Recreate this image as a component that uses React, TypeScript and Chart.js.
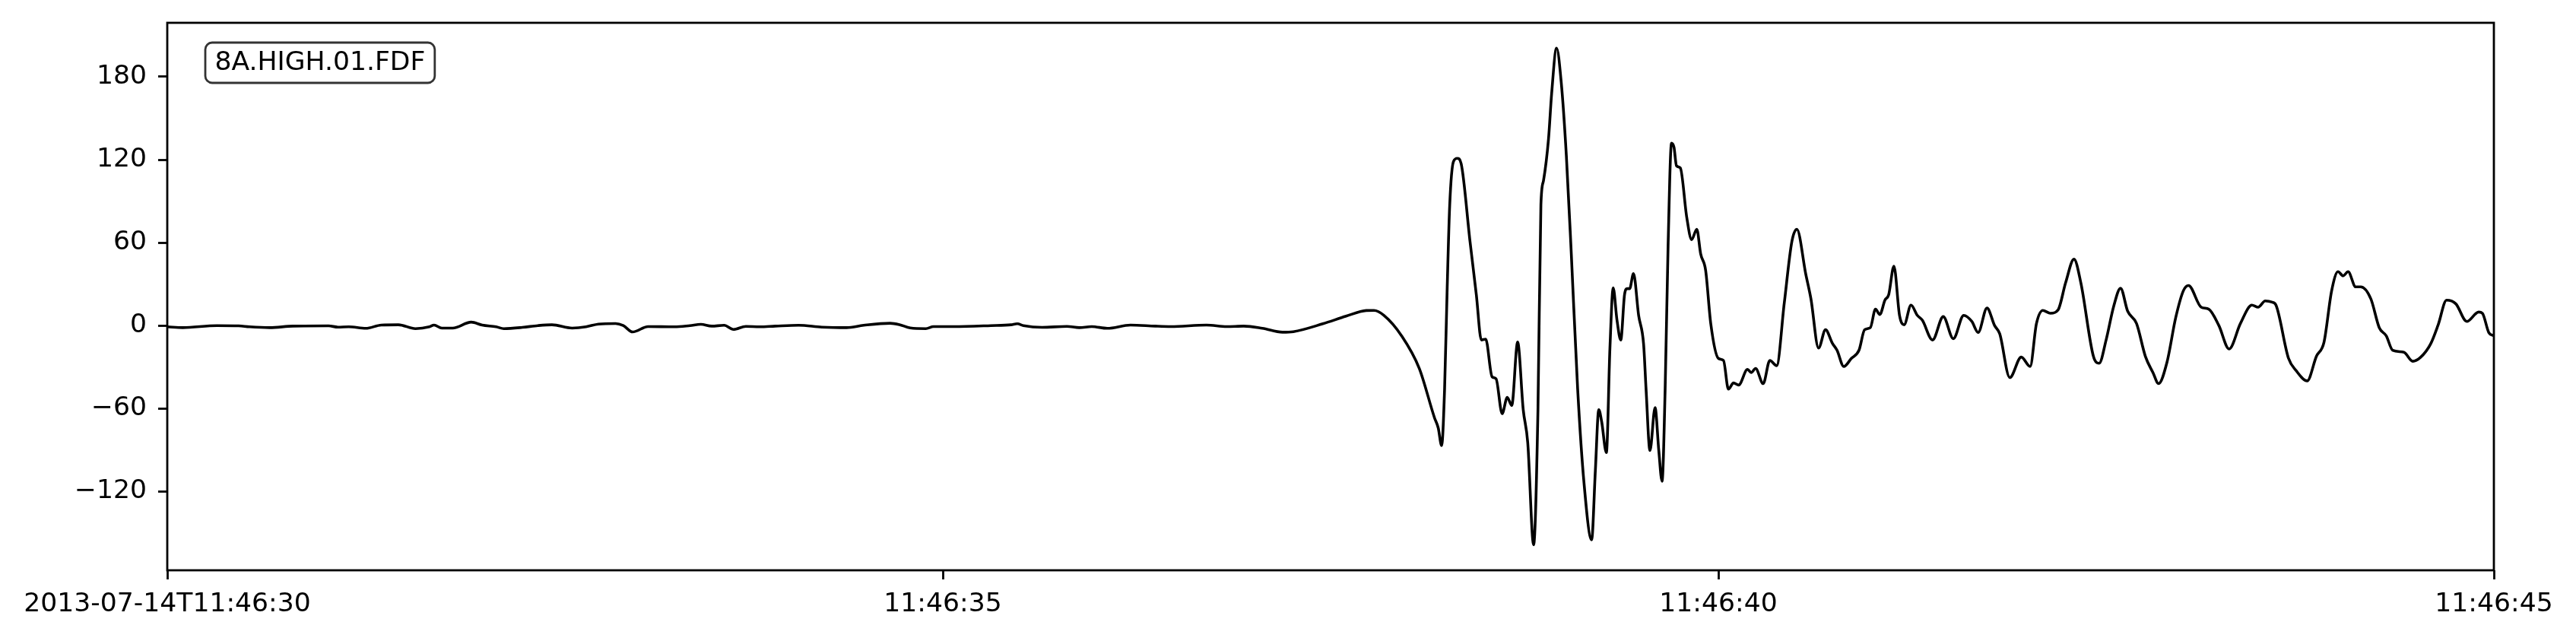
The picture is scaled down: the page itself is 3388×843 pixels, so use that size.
import { useEffect, useRef } from "react";
import { Chart, registerables } from "chart.js";

Chart.register(...registerables);

// trace id shown in the corner box
const traceLabel = "8A.HIGH.01.FDF";

// x axis: seconds after 2013-07-14T11:46:30
const timeTicks = [0, 5, 10, 15];
const timeTickLabels = ["2013-07-14T11:46:30", "11:46:35", "11:46:40", "11:46:45"];

// y axis ticks (counts)
const ampTicks = [-120, -60, 0, 60, 120, 180];

// waveform samples
const seconds = [
  0, 0.1, 0.32, 0.46, 0.53, 0.66, 0.81, 1.04, 1.1, 1.17, 1.28, 1.38, 1.49, 1.6, 1.69, 1.72, 1.77, 1.84, 1.96,
  2.03, 2.12, 2.17, 2.29, 2.39, 2.48, 2.61, 2.7, 2.78, 2.89, 2.94, 3.0, 3.1, 3.27, 3.37, 3.44, 3.51, 3.59, 3.65,
  3.73, 3.82, 3.92, 4.07, 4.22, 4.38, 4.49, 4.66, 4.72, 4.79, 4.89, 4.94, 5.07, 5.31, 5.44, 5.48, 5.52, 5.64,
  5.8, 5.88, 5.96, 6.06, 6.21, 6.37, 6.47, 6.7, 6.83, 6.94, 7.06, 7.19, 7.26, 7.45, 7.6, 7.73, 7.78,
  7.843, 7.958, 8.072, 8.17, 8.194, 8.216, 8.235, 8.252, 8.268, 8.292, 8.317, 8.342, 8.399, 8.44, 8.472, 8.5,
  8.541, 8.567, 8.606, 8.639, 8.668, 8.706, 8.742, 8.771, 8.809, 8.837, 8.856, 8.873, 8.905, 8.925, 8.957,
  8.987, 9.02, 9.052, 9.093, 9.134, 9.183, 9.207, 9.229, 9.248, 9.278, 9.301, 9.322, 9.346, 9.371, 9.395,
  9.412, 9.428, 9.453, 9.486, 9.518, 9.534, 9.559, 9.592, 9.616, 9.637, 9.657, 9.676, 9.698, 9.714, 9.73,
  9.755, 9.796, 9.828, 9.861, 9.886, 9.918, 9.951, 10.0, 10.033, 10.065, 10.098, 10.131,
  10.188, 10.212, 10.24, 10.289, 10.332, 10.376, 10.425, 10.474, 10.506, 10.564, 10.597, 10.646, 10.691,
  10.735, 10.765, 10.809, 10.858, 10.907, 10.943, 10.98, 11.013, 11.041, 11.074, 11.098, 11.132, 11.168,
  11.198, 11.242, 11.283, 11.315, 11.381, 11.45, 11.515, 11.582, 11.634, 11.675, 11.732, 11.781, 11.814,
  11.879, 11.953, 12.01, 12.051, 12.092, 12.141, 12.19, 12.239, 12.293, 12.337, 12.418, 12.455, 12.5,
  12.549, 12.593, 12.639, 12.696, 12.753, 12.802, 12.838, 12.892, 12.949, 12.998, 13.031, 13.113, 13.162,
  13.227, 13.293, 13.366, 13.44, 13.48, 13.526, 13.57, 13.595, 13.676, 13.725, 13.796, 13.856, 13.905,
  13.954, 13.995, 14.028, 14.06, 14.109, 14.142, 14.207, 14.261, 14.306, 14.347, 14.42, 14.477, 14.526,
  14.592, 14.641, 14.695, 14.755, 14.825, 14.902, 14.926, 14.967, 15.0,
];
const counts = [
  -0.9, -1.5, 0, -0.2, -0.9, -1.5, -0.4, -0.2, -1.1, -0.9, -2.0, 0.4, 0.6, -2.2, -0.9, 0.4, -1.8, -1.8, 2.5,
  0.4, -0.9, -2.2, -1.3, 0, 0.6, -1.8, -0.9, 1.1, 1.5, 0, -4.6, -0.7, -0.9, 0, 0.9, -0.4, 0.2, -2.8,
  -0.6, -0.9, -0.4, 0.2, -1.1, -1.5, 0.2, 1.7, 0.7, -1.7, -2.2, -0.7, -0.7, 0, 0.6, 1.3, 0, -1.3,
  -0.6, -1.5, -0.7, -2.0, 0.4, -0.4, -0.7, 0.4, -0.7, -0.4, -2.0, -4.8, -4.4, 1.3, 6.8, 10.9, 11.0,
  7.5, -7.4, -31, -66.7, -74, -86.8, -46, 28, 87, 118.6, 121, 117, 60.8, 22, -10.4, -9.8,
  -37, -38.5, -63.7, -51.9, -57.8, -11.9, -60.8, -84.5, -158.6, -60.8, 87.4, 105, 134.9, 167.5, 200.7,
  176, 123, 51.9, -46, -114, -155, -105, -60.8, -69.7, -91.9, -16.3, 27.3, 4.4, -10.4, 22.2,
  26.7, 26.7, 37.6, 7.4, -13.3, -46, -90.4, -59.3, -90.4, -112.6, -46, 57.8, 131.9, 129, 115.6,
  114, 78.5, 62.2, 69.7, 51.9, 40, 1.5, -23.7, -25.2, -46, -41.5, -43,
  -31.7, -34, -31, -42, -25.2, -29, 16.3, 60.8, 69.7, 37, 19.3, -16.3, -3,
  -12.7, -17.8, -29.6, -23.7, -17.8, -3, -1.5, 11.9, 8, 18.4, 22.2, 43, 7.4,
  0.6, 14.8, 7.4, 3.9, -10.4, 6.5, -9.5, 7.4, 3, -5, 12.7, 0, -5.9,
  -37.6, -22.8, -29.6, 1.5, 11, 8.9, 11.3, 31, 48, 31, -22.2, -27.3, -10.4,
  14, 27, 10.4, 1.5, -22.2, -34, -42, -26.7, 5.9, 25.2, 29, 13.3, 11.9,
  0, -16.9, 1.5, 14.8, 13.3, 17.8, 16.9, 14.8, -23.7, -32.6, -40, -22.2, -11.9,
  25.2, 39, 36, 39, 28, 28, 19.3, -1.5, -7.4, -17.8, -19.3, -25.8, -23.1,
  -13.3, 0.6, 18.4, 15.7, 3, 9.8, 8.9, -5, -7.4,
];

const FONT = "DejaVu Sans";
const FONT_SIZE = 34.6;

// frame around the plot + the trace id box
const framePlugin = {
  id: "frame",
  afterDraw(chart: Chart) {
    const { ctx, chartArea } = chart;
    ctx.save();
    ctx.strokeStyle = "#000";
    ctx.lineWidth = 2.8;
    ctx.strokeRect(chartArea.left, chartArea.top, chartArea.right - chartArea.left, chartArea.bottom - chartArea.top);

    ctx.font = `${FONT_SIZE}px "${FONT}"`;
    const w = ctx.measureText(traceLabel).width;
    const bx = chartArea.left + 50;
    const by = chartArea.top + 26;
    const bw = w + 25;
    const bh = 53;
    ctx.beginPath();
    ctx.roundRect(bx, by, bw, bh, 9);
    ctx.fillStyle = "#fff";
    ctx.fill();
    ctx.strokeStyle = "rgba(0,0,0,0.8)";
    ctx.lineWidth = 2.8;
    ctx.stroke();
    ctx.fillStyle = "#000";
    ctx.textBaseline = "middle";
    ctx.fillText(traceLabel, bx + 12.5, by + bh / 2 + 1);
    ctx.restore();
  },
};

export default function App() {
  const canvasRef = useRef<HTMLCanvasElement | null>(null);

  useEffect(() => {
    if (!canvasRef.current) return;
    const ctx = canvasRef.current.getContext("2d");
    if (!ctx) return;

    const chart = new Chart(ctx, {
      type: "line",
      data: {
        datasets: [
          {
            label: traceLabel,
            data: seconds.map((t, i) => ({ x: t, y: counts[i] })),
            borderColor: "#000",
            borderWidth: 3.6,
            pointRadius: 0,
            cubicInterpolationMode: "monotone",
            fill: false,
          },
        ],
      },
      options: {
        animation: false,
        responsive: true,
        maintainAspectRatio: false,
        layout: { padding: { top: 30, right: 108, left: 0, bottom: 0 } },
        plugins: { legend: { display: false }, tooltip: { enabled: false } },
        scales: {
          x: {
            type: "linear",
            min: 0,
            max: 15,
            afterFit: (s: any) => {
              s.height = 93;
            },
            afterBuildTicks: (s: any) => {
              s.ticks = timeTicks.map((v) => ({ value: v }));
            },
            border: { display: false },
            grid: { drawOnChartArea: false, drawTicks: true, tickLength: 12, tickWidth: 2.8, tickColor: "#000" },
            ticks: {
              autoSkip: false,
              maxRotation: 0,
              padding: 12,
              color: "#000",
              font: { family: FONT, size: FONT_SIZE },
              callback: (v: any) => timeTickLabels[timeTicks.indexOf(Number(v))] ?? "",
            },
          },
          y: {
            type: "linear",
            min: -177,
            max: 219,
            afterFit: (s: any) => {
              s.width = 220;
              s.paddingTop = 0;
              s.paddingBottom = 0;
            },
            afterBuildTicks: (s: any) => {
              s.ticks = ampTicks.map((v) => ({ value: v }));
            },
            border: { display: false },
            grid: { drawOnChartArea: false, drawTicks: true, tickLength: 12, tickWidth: 2.8, tickColor: "#000" },
            ticks: {
              padding: 15,
              color: "#000",
              font: { family: FONT, size: FONT_SIZE },
              callback: (v: any) => (Number(v) < 0 ? "\u2212" + Math.abs(Number(v)) : String(v)),
            },
          },
        },
      },
      plugins: [framePlugin],
    });

    return () => {
      chart.destroy();
    };
  }, []);

  return (
    <div style={{ position: "fixed", left: 0, top: 0, width: 3388, height: 843, background: "#fff" }}>
      <canvas ref={canvasRef}></canvas>
    </div>
  );
}
